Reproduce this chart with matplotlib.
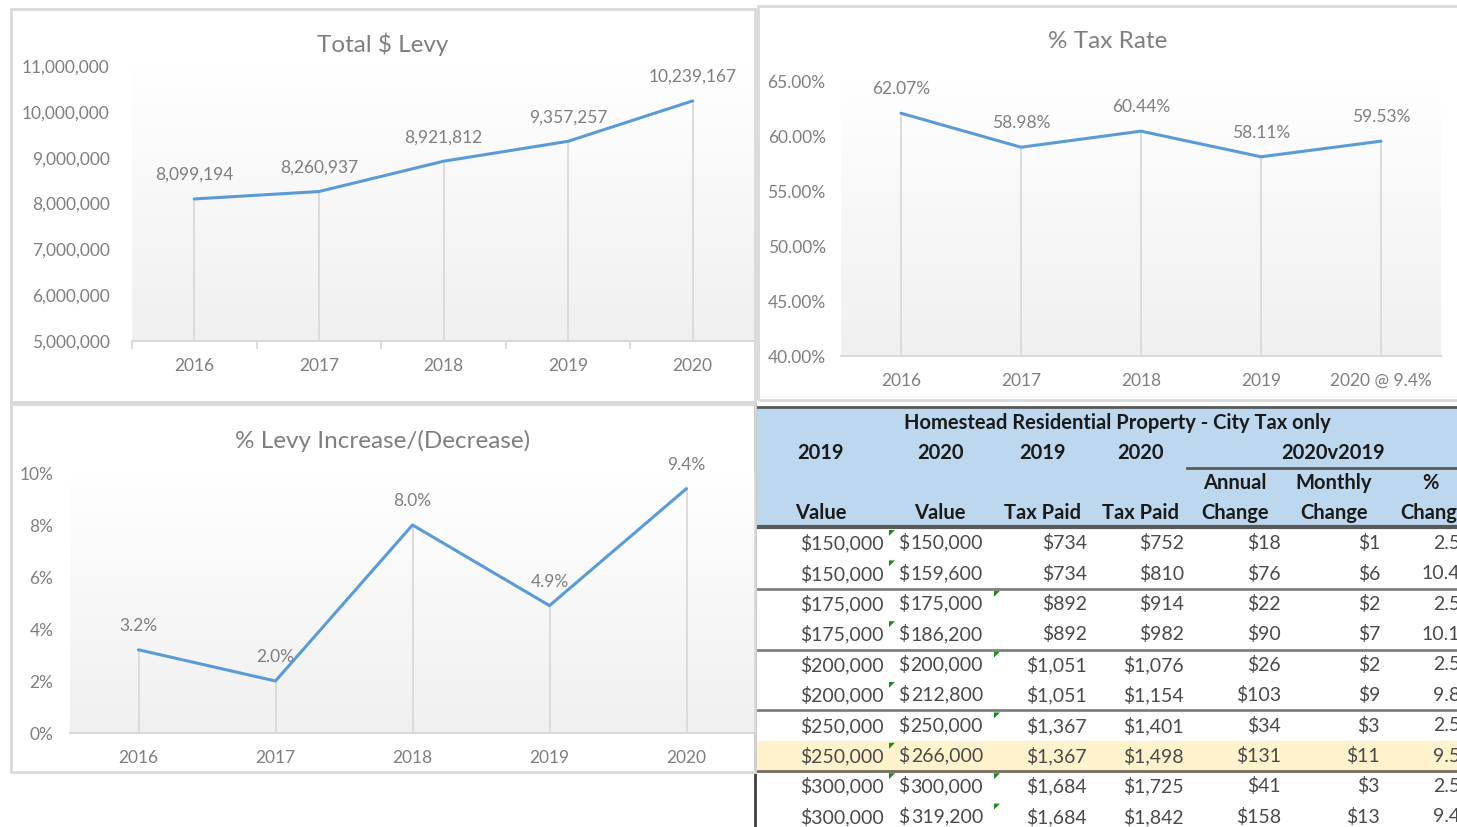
import numpy as np
import matplotlib
matplotlib.use("Agg")
import matplotlib.pyplot as plt
from matplotlib.patches import Rectangle, Polygon
from matplotlib.ticker import FuncFormatter

plt.rcParams['font.family'] = ['Lato', 'DejaVu Sans']

# ---- data ----
years = ['2016', '2017', '2018', '2019', '2020']
rate_years = ['2016', '2017', '2018', '2019', '2020 @ 9.4%']
total_levy = [8099194, 8260937, 8921812, 9357257, 10239167]
tax_rate = [0.6207, 0.5898, 0.6044, 0.5811, 0.5953]
levy_change = [0.032, 0.020, 0.080, 0.049, 0.094]

table_title = 'Homestead Residential Property - City Tax only'
value_2019 = [150000, 150000, 175000, 175000, 200000, 200000, 250000, 250000, 300000, 300000]
value_2020 = [150000, 159600, 175000, 186200, 200000, 212800, 250000, 266000, 300000, 319200]
tax_2019 = [734, 734, 892, 892, 1051, 1051, 1367, 1367, 1684, 1684]
tax_2020 = [752, 810, 914, 982, 1076, 1154, 1401, 1498, 1725, 1842]
annual_change = [18, 76, 22, 90, 26, 103, 34, 131, 41, 158]
monthly_change = [1, 6, 2, 7, 2, 9, 3, 11, 3, 13]
pct_change = [2.5, 10.4, 2.5, 10.1, 2.5, 9.8, 2.5, 9.5, 2.5, 9.4]
highlight_row = 7
flag_after_col1 = [0, 1, 3, 5, 7, 8]
flag_after_col2 = [2, 4, 6, 8, 9]

W, H = 1457, 827
fig = plt.figure(figsize=(W / 100, H / 100), dpi=100)

BLUE = '#5b9bd5'
GRAY_TXT = '#7f7f7f'
GRID = '#d9d9d9'


def rect(x0, y0, x1, y1):
    return [x0 / W, 1 - y1 / H, (x1 - x0) / W, (y1 - y0) / H]


def chart_border(x0, y0, x1, y1):
    fig.patches.append(Rectangle((x0 / W, 1 - y1 / H), (x1 - x0) / W, (y1 - y0) / H,
                                 transform=fig.transFigure, fill=False, ec='#d9d9d9', lw=2))


grad = np.linspace(0, 1, 256).reshape(-1, 1)
cmap = matplotlib.colors.LinearSegmentedColormap.from_list('g', ['#f0f0f0', '#ffffff'])


def line_chart(pos, title, title_xy, labels, values, ylim, yticks, yfmt, lblfmt, ypad, cat_ticks=False):
    ax = fig.add_axes(rect(*pos))
    x = np.arange(len(values))
    ax.imshow(grad, extent=(-0.5, 4.5, ylim[0], ylim[1]), origin='lower',
              cmap=cmap, aspect='auto', zorder=0)
    ax.set_xlim(-0.5, 4.5)
    ax.set_ylim(*ylim)
    ax.vlines(x, ylim[0], values, colors=GRID, lw=1.3, zorder=1)
    ax.plot(x, values, color=BLUE, lw=2.2, zorder=3, solid_capstyle='round')
    for xi, v in zip(x, values):
        ax.annotate(lblfmt(v), (xi, v), xytext=(0, 24), textcoords='offset pixels',
                    ha='center', va='center', fontsize=12.5, color=GRAY_TXT)
    for s in ['top', 'right', 'left']:
        ax.spines[s].set_visible(False)
    ax.spines['bottom'].set_color(GRID)
    ax.spines['bottom'].set_linewidth(1.5)
    ax.set_yticks(yticks)
    ax.yaxis.set_major_formatter(FuncFormatter(lambda v, p: yfmt(v)))
    ax.tick_params(axis='y', length=0, pad=ypad, labelsize=12.5, labelcolor=GRAY_TXT)
    ax.set_xticks(x)
    ax.set_xticklabels(labels)
    ax.tick_params(axis='x', length=0, pad=12, labelsize=12.5, labelcolor=GRAY_TXT)
    if cat_ticks:
        ax.set_xticks(np.arange(-0.5, 5, 1), minor=True)
        ax.tick_params(axis='x', which='minor', length=6, width=1.3, color=GRID)
    ax.patch.set_alpha(0)
    fig.text(title_xy[0] / W, 1 - title_xy[1] / H, title, ha='center', va='center',
             fontsize=17.5, color=GRAY_TXT)
    return ax


# ---- table drawn first so charts sit on top ----
axt = fig.add_axes([0, 0, 1, 1])
axt.set_xlim(0, W)
axt.set_ylim(H, 0)
axt.axis('off')

axt.add_patch(Rectangle((756, 407), W - 756, 121, fc='#bdd7ee', ec='none'))
row_top = 528
row_h = 30.4
axt.add_patch(Rectangle((756, row_top + highlight_row * row_h), W - 756, row_h, fc='#fff2cc', ec='none'))
axt.plot([756, W], [407, 407], color='#595959', lw=2)
axt.plot([756, W], [527, 527], color='#595959', lw=3)
axt.plot([1187, W], [468, 468], color='#595959', lw=2)
axt.plot([755, 755], [405, H], color='#404040', lw=2)
for k in (2, 4, 6, 8):
    yy = row_top + k * row_h
    axt.plot([756, W], [yy, yy], color='#6f6f60' if k == 8 else '#808080', lw=2)

hdr = dict(ha='center', va='center', fontsize=14.5, fontweight='bold', color='#1a1a1a')
axt.text(1117, 423, table_title, **hdr)
for xx, t in zip([821, 940, 1042, 1140, 1333], ['2019', '2020', '2019', '2020', '2020v2019']):
    axt.text(xx, 453, t, **hdr)
for xx, t in zip([1235, 1334, 1430], ['Annual', 'Monthly', '%']):
    axt.text(xx, 483, t, **hdr)
for xx, t in zip([821, 940, 1042, 1140, 1235, 1334, 1434],
                 ['Value', 'Value', 'Tax Paid', 'Tax Paid', 'Change', 'Change', 'Change']):
    axt.text(xx, 513, t, **hdr)

body = dict(va='center', fontsize=14, color='#4a4a4a')
for i in range(len(value_2019)):
    yc = row_top + (i + 0.5) * row_h
    axt.text(884, yc, f'${value_2019[i]:,}', ha='right', **body)
    axt.text(898, yc, '$', ha='left', **body)
    axt.text(983, yc, f'{value_2020[i]:,}', ha='right', **body)
    axt.text(1087, yc, f'${tax_2019[i]:,}', ha='right', **body)
    axt.text(1184, yc, f'${tax_2020[i]:,}', ha='right', **body)
    axt.text(1281, yc, f'${annual_change[i]:,}', ha='right', **body)
    axt.text(1380, yc, f'${monthly_change[i]:,}', ha='right', **body)
    axt.text(1476, yc, f'{pct_change[i]:.1f}%', ha='right', **body)

for i in flag_after_col1:
    yt = row_top + i * row_h + 2
    axt.add_patch(Polygon([(889, yt), (895, yt), (889, yt + 6)], fc='#1e8c1e', ec='none'))
for i in flag_after_col2:
    yt = row_top + i * row_h + 2
    axt.add_patch(Polygon([(994, yt), (1000, yt), (994, yt + 6)], fc='#1e8c1e', ec='none'))

# ---- charts ----
chart_border(11, 9, 755, 402)
chart_border(758, 6, 1460, 400)
chart_border(11, 404, 755, 772)

line_chart((132, 66, 755, 341), 'Total $ Levy', (383, 44), years, total_levy,
           (5000000, 11000000), np.arange(5000000, 11000001, 1000000),
           lambda v: f'{v:,.0f}', lambda v: f'{v:,}', 16, cat_ticks=True)

line_chart((841, 81, 1441, 356), '% Tax Rate', (1108, 41), rate_years, tax_rate,
           (0.40, 0.65), np.arange(0.40, 0.6501, 0.05),
           lambda v: f'{v * 100:.2f}%', lambda v: f'{v * 100:.2f}%', 11)

line_chart((70, 473, 755, 733), '% Levy Increase/(Decrease)', (383, 441), years, levy_change,
           (0.0, 0.10), np.arange(0.0, 0.1001, 0.02),
           lambda v: f'{v * 100:.0f}%', lambda v: f'{v * 100:.1f}%', 12)

fig.savefig('out.png', dpi=100)
